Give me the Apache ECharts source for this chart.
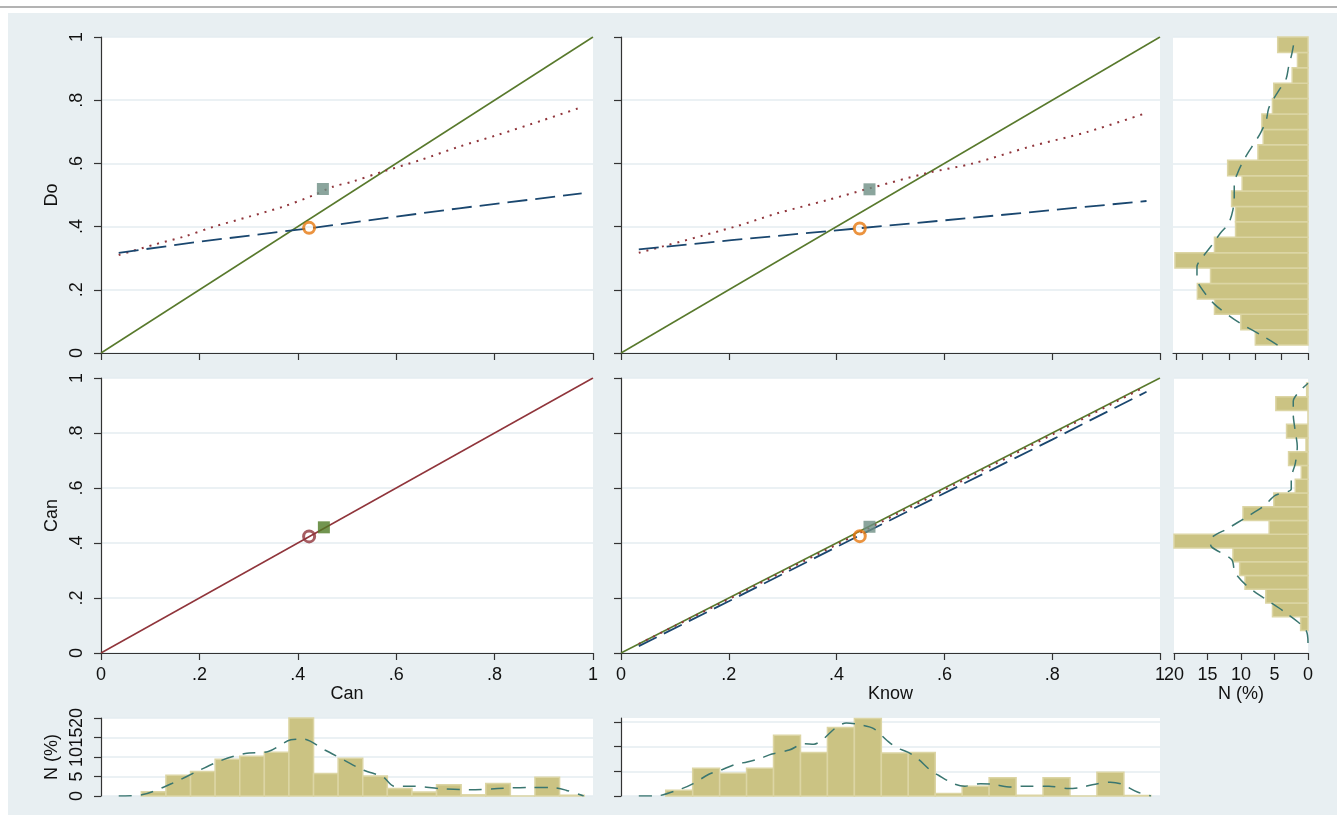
<!DOCTYPE html>
<html><head><meta charset="utf-8">
<script src="https://cdn.jsdelivr.net/npm/echarts@6/dist/echarts.min.js"></script>
<style>html,body{margin:0;padding:0;background:#fff}#c{width:1337px;height:815px}</style>
</head><body><div id="c"></div>
<script>
// ---------- tick labels ----------
const unitTicks = [0, 0.2, 0.4, 0.6, 0.8, 1];
const unitTickLabels = ['0', '.2', '.4', '.6', '.8', '1'];
const doHistTicks = [0, 2, 4, 6, 8, 10];
const canRightHistTicks = [0, 5, 10, 15, 20];
const canBottomHistTicks = [0, 5, 10, 15, 20];
const canBottomHistLabelsA = [0, 10, 20];
const canBottomHistLabelsB = [5, 15];
const knowHistTicks = [0, 5, 10, 15];

// ---------- reference lines ----------
const diagonal = [[0, 0], [1, 1]];

// ---------- top-left: Do vs Can ----------
const doCanDotted = [[0.036,0.310],[0.106,0.342],[0.168,0.368],[0.230,0.400],[0.300,0.431],[0.370,0.463],[0.433,0.500],[0.471,0.526],[0.510,0.542],[0.573,0.574],[0.650,0.611],[0.728,0.653],[0.806,0.690],[0.899,0.737],[0.977,0.778]];
const doCanDashed = [[0.036,0.317],[0.199,0.352],[0.425,0.395],[0.728,0.458],[0.977,0.505]];
const doCanCircle = [[0.423, 0.396]];
const doCanSquare = [[0.451, 0.519]];

// ---------- top-middle: Do vs Know ----------
const doKnowDotted = [[0.033,0.317],[0.212,0.400],[0.290,0.442],[0.383,0.484],[0.461,0.521],[0.567,0.569],[0.653,0.600],[0.759,0.653],[0.866,0.700],[0.972,0.758]];
const doKnowDashed = [[0.033,0.328],[0.205,0.357],[0.443,0.395],[0.652,0.428],[0.975,0.481]];
const doKnowCircle = [[0.443, 0.394]];
const doKnowSquare = [[0.461, 0.518]];

// ---------- bottom-left: Can vs Can ----------
const canCanCircle = [[0.423, 0.424]];
const canCanSquare = [[0.453, 0.457]];

// ---------- bottom-middle: Can vs Know ----------
const canKnowDotted = [[0.033,0.033],[0.2,0.196],[0.4,0.394],[0.6,0.593],[0.8,0.794],[0.972,0.968]];
const canKnowDashed = [[0.033,0.025],[0.2,0.188],[0.443,0.428],[0.8,0.776],[0.975,0.950]];
const canKnowCircle = [[0.443, 0.425]];
const canKnowSquare = [[0.461, 0.459]];

// ---------- histograms (percent per bin) ----------
const doBinStart = 0.025, doBinWidth = 0.04875;
const doPct = [4.0, 5.1, 7.1, 8.4, 7.4, 10.1, 7.1, 5.5, 5.5, 5.8, 5.0, 6.1, 3.8, 3.4, 3.5, 2.7, 2.6, 1.2, 0.8, 2.3];
const canBinStart = 0.082, canBinWidth = 0.05;
const canPct = [1.1, 5.3, 6.3, 9.4, 10.2, 11.2, 20.0, 5.8, 9.7, 5.1, 1.9, 1.0, 2.9, 0.3, 3.2, 0, 4.8, 0.2];
const knowBinStart = 0.083, knowBinWidth = 0.05;
const knowPct = [1.15, 5.6, 4.6, 5.6, 12.3, 8.8, 13.9, 15.7, 8.7, 8.8, 0.5, 2.0, 3.7, 0.15, 3.7, 0, 4.8, 0.1];

// ---------- kernel densities [value, percent] ----------
const doKde = [[0.025,2.31],[0.052,3.37],[0.094,5.14],[0.115,5.9],[0.157,7.17],[0.21,8.18],[0.236,8.43],[0.273,8.43],[0.305,7.97],[0.342,7.29],[0.379,6.66],[0.41,6.03],[0.453,5.7],[0.495,5.6],[0.537,5.6],[0.569,5.35],[0.6,5.01],[0.632,4.58],[0.664,4.08],[0.695,3.62],[0.737,3.17],[0.774,2.99],[0.801,2.66],[0.838,2.1],[0.869,1.65],[0.906,1.47],[0.948,1.22],[0.988,1.04]];
const canKde = [[0.036,0],[0.083,0.3],[0.144,3.2],[0.2,6.6],[0.246,9.2],[0.293,10.9],[0.34,11.4],[0.386,14.4],[0.41,14.6],[0.455,11.8],[0.494,9.2],[0.534,6.6],[0.573,4.9],[0.596,2.5],[0.634,2.5],[0.689,1.9],[0.751,1.6],[0.806,1.9],[0.868,2.2],[0.915,2.2],[0.945,1.5],[0.981,0]];
const knowKde = [[0.033,0],[0.063,0],[0.113,1.5],[0.134,2.5],[0.163,4.4],[0.184,5.2],[0.212,6.4],[0.234,6.9],[0.258,7.6],[0.28,8.5],[0.312,9.3],[0.34,10.6],[0.358,10.5],[0.376,11.6],[0.397,13.7],[0.418,14.8],[0.44,14.5],[0.468,13.7],[0.493,11.3],[0.511,9.8],[0.532,8.9],[0.55,7.6],[0.574,5.2],[0.589,4.2],[0.617,2.5],[0.638,2.0],[0.667,2.5],[0.688,2.4],[0.724,1.8],[0.745,2.0],[0.794,2.0],[0.83,1.5],[0.851,1.7],[0.88,2.4],[0.908,2.8],[0.929,2.4],[0.958,0.8],[0.983,0]];

// ---------- styles ----------
const FONT = 'Liberation Sans, Arial, sans-serif';
const TXT = '#111';
const AXIS = '#333';
const GRIDC = '#e4edf0';
const C_GREEN = '#58792c', C_MAROON = '#90353b', C_NAVY = '#1a476f', C_ORANGE = '#e6780f', C_TEAL = '#6e8e84', C_DKGREEN = '#4f7a24';
const C_BAR = '#cbc383', C_BAR_EDGE = '#dcd5a4', C_KDE = '#3a7670';

function binRows(start, width, pct) {
  return pct.map((v, i) => [start + i * width, start + (i + 1) * width, v]);
}
function histRender(horizontal) {
  return function (params, api) {
    const lo = api.value(0), hi = api.value(1), v = api.value(2);
    let a, b;
    if (horizontal) { a = api.coord([0, lo]); b = api.coord([v, hi]); }
    else { a = api.coord([lo, 0]); b = api.coord([hi, v]); }
    return {
      type: 'rect',
      shape: { x: Math.min(a[0], b[0]), y: Math.min(a[1], b[1]), width: Math.abs(a[0] - b[0]), height: Math.abs(a[1] - b[1]) },
      style: { fill: C_BAR, stroke: C_BAR_EDGE, lineWidth: 1.5 }
    };
  };
}
const unitFmt = v => { const i = unitTicks.findIndex(t => Math.abs(t - v) < 1e-6); return i >= 0 ? unitTickLabels[i] : ''; };

const lbl = (show, extra) => Object.assign({ show, fontFamily: FONT, fontSize: 18, color: TXT, showMinLabel: true, showMaxLabel: true }, extra || {});
const tick = (show, extra) => Object.assign({ show, length: 7, lineStyle: { color: AXIS, width: 1.2 } }, extra || {});
const aLine = show => ({ show, lineStyle: { color: AXIS, width: 1.2 } });
const split = show => ({ show, lineStyle: { color: GRIDC, width: 1.5 } });
const nameStyle = { fontFamily: FONT, fontSize: 18, color: TXT };

function unitX(grid, showLabels, name) {
  return { gridIndex: grid, type: 'value', min: 0, max: 1, interval: 0.2,
    axisLine: aLine(true), axisTick: tick(true), splitLine: split(false),
    axisLabel: lbl(showLabels, { margin: 13, formatter: unitFmt }),
    name: name || '', nameLocation: 'middle', nameGap: 30, nameTextStyle: nameStyle };
}
function unitY(grid, showLabels, name) {
  return { gridIndex: grid, type: 'value', min: 0, max: 1, interval: 0.2,
    axisLine: aLine(true), axisTick: tick(true), splitLine: split(true),
    axisLabel: lbl(showLabels, { margin: 15, rotate: 90, formatter: unitFmt }),
    name: name || '', nameLocation: 'middle', nameGap: 40, nameRotate: 90, nameTextStyle: nameStyle };
}

const grids = [
  { left: 101, top: 37, width: 492, height: 316 },
  { left: 621, top: 37, width: 539, height: 316 },
  { left: 1173, top: 37, width: 135, height: 316 },
  { left: 101, top: 378, width: 492, height: 275 },
  { left: 621, top: 378, width: 539, height: 275 },
  { left: 1174, top: 378, width: 134, height: 275 },
  { left: 101, top: 718, width: 492, height: 78 },
  { left: 621, top: 718, width: 539, height: 78 }
].map(g => Object.assign({ show: true, backgroundColor: '#fff', borderWidth: 0, containLabel: false }, g));

const xAxes = [
  unitX(0, false),
  unitX(1, false),
  { gridIndex: 2, type: 'value', inverse: true, min: 0, max: 10.25, interval: 2,
    axisLine: aLine(true), axisTick: tick(true, { customValues: doHistTicks }), axisLabel: lbl(false), splitLine: split(false) },
  unitX(3, true, 'Can'),
  unitX(4, true, 'Know'),
  { gridIndex: 5, type: 'value', inverse: true, min: 0, max: 20, interval: 5,
    axisLine: aLine(true), axisTick: tick(true, { customValues: canRightHistTicks }),
    axisLabel: lbl(true, { margin: 13, customValues: canRightHistTicks }), splitLine: split(false),
    name: 'N (%)', nameLocation: 'middle', nameGap: 30, nameTextStyle: nameStyle },
  { gridIndex: 6, type: 'value', min: 0, max: 1, show: false },
  { gridIndex: 7, type: 'value', min: 0, max: 1, show: false }
];
const yAxes = [
  unitY(0, true, 'Do'),
  unitY(1, false),
  { gridIndex: 2, type: 'value', min: 0, max: 1, interval: 0.2, axisLine: aLine(false), axisTick: tick(false), axisLabel: lbl(false), splitLine: split(true) },
  unitY(3, true, 'Can'),
  unitY(4, false),
  { gridIndex: 5, type: 'value', min: 0, max: 1, interval: 0.2, axisLine: aLine(false), axisTick: tick(false), axisLabel: lbl(false), splitLine: split(true) },
  { gridIndex: 6, type: 'value', min: 0, max: 20, interval: 5,
    axisLine: aLine(true), axisTick: tick(true, { customValues: canBottomHistTicks }),
    axisLabel: lbl(true, { margin: 15, rotate: 90, customValues: canBottomHistLabelsA }), splitLine: split(true),
    name: 'N (%)', nameLocation: 'middle', nameGap: 40, nameRotate: 90, nameTextStyle: nameStyle },
  { gridIndex: 7, type: 'value', min: 0, max: 15.8, interval: 5,
    axisLine: aLine(true), axisTick: tick(true, { customValues: knowHistTicks }), axisLabel: lbl(false), splitLine: split(true) },
  // second label layer for the bottom-left histogram (labels 5 and 15)
  { gridIndex: 6, type: 'value', position: 'left', min: 0, max: 20, interval: 5,
    axisLine: aLine(false), axisTick: tick(false), splitLine: split(false),
    axisLabel: lbl(true, { margin: 15, rotate: 90, customValues: canBottomHistLabelsB }) }
];

function line(ax, data, color, type, width, smooth, z) {
  return { type: 'line', xAxisIndex: ax, yAxisIndex: ax, data, symbol: 'none', smooth: smooth || false,
    lineStyle: { color, type, width: width || 1.5 }, silent: true, z: z || 2 };
}
function pt(ax, data, symbol, size, style, z) {
  return { type: 'scatter', xAxisIndex: ax, yAxisIndex: ax, data, symbol, symbolSize: size, itemStyle: style, silent: true, z: z || 5 };
}
const ring = c => ({ color: 'rgba(0,0,0,0)', borderColor: c, borderWidth: 3 });
const swap = arr => arr.map(d => [d[1], d[0]]);

const series = [
  // top-left
  line(0, diagonal, C_GREEN, 'solid', 1.5),
  line(0, doCanDotted, C_MAROON, [2, 6], 2, 0.3),
  line(0, doCanDashed, C_NAVY, [20, 8], 1.8),
  pt(0, doCanSquare, 'rect', 12, { color: C_TEAL }),
  pt(0, doCanCircle, 'circle', 11, ring(C_ORANGE), 6),
  // top-middle
  line(1, diagonal, C_GREEN, 'solid', 1.5),
  line(1, doKnowDotted, C_MAROON, [2, 6], 2, 0.3),
  line(1, doKnowDashed, C_NAVY, [20, 8], 1.8),
  pt(1, doKnowSquare, 'rect', 12, { color: C_TEAL }),
  pt(1, doKnowCircle, 'circle', 11, ring(C_ORANGE), 6),
  // top-right histogram (Do)
  { type: 'custom', xAxisIndex: 2, yAxisIndex: 2, renderItem: histRender(true), data: binRows(doBinStart, doBinWidth, doPct), silent: true, z: 2 },
  line(2, swap(doKde), C_KDE, [13, 9], 1.5, 0.3, 4),
  // bottom-left
  line(3, diagonal, C_MAROON, 'solid', 1.5),
  pt(3, canCanSquare, 'rect', 12, { color: C_DKGREEN }),
  pt(3, canCanCircle, 'circle', 11, ring(C_MAROON), 6),
  // bottom-middle
  line(4, diagonal, C_GREEN, 'solid', 1.5),
  line(4, canKnowDotted, C_MAROON, [2, 6], 2),
  line(4, canKnowDashed, C_NAVY, [20, 8], 1.8),
  pt(4, canKnowSquare, 'rect', 12, { color: C_TEAL }),
  pt(4, canKnowCircle, 'circle', 11, ring(C_ORANGE), 6),
  // bottom-right histogram (Can)
  { type: 'custom', xAxisIndex: 5, yAxisIndex: 5, renderItem: histRender(true), data: binRows(canBinStart, canBinWidth, canPct), silent: true, z: 2 },
  line(5, swap(canKde), C_KDE, [13, 9], 1.5, 0.3, 4),
  // bottom hist Can
  { type: 'custom', xAxisIndex: 6, yAxisIndex: 6, renderItem: histRender(false), data: binRows(canBinStart, canBinWidth, canPct), silent: true, z: 2 },
  line(6, canKde, C_KDE, [13, 9], 1.5, 0.3, 4),
  // bottom hist Know
  { type: 'custom', xAxisIndex: 7, yAxisIndex: 7, renderItem: histRender(false), data: binRows(knowBinStart, knowBinWidth, knowPct), silent: true, z: 2 },
  line(7, knowKde, C_KDE, [13, 9], 1.5, 0.3, 4)
];

const chart = echarts.init(document.getElementById('c'), null, { renderer: 'canvas' });
chart.setOption({
  animation: false,
  backgroundColor: '#e8eff2',
  graphic: [
    { type: 'rect', shape: { x: 0, y: 0, width: 1337, height: 13 }, style: { fill: '#fff' }, z: 100 },
    { type: 'rect', shape: { x: 0, y: 0, width: 8, height: 815 }, style: { fill: '#fff' }, z: 100 },
    { type: 'line', shape: { x1: 0, y1: 7, x2: 1337, y2: 7 }, style: { stroke: '#9a9a9a', lineWidth: 1.5 }, z: 101 }
  ],
  grid: grids,
  xAxis: xAxes,
  yAxis: yAxes,
  series
});
</script></body></html>
